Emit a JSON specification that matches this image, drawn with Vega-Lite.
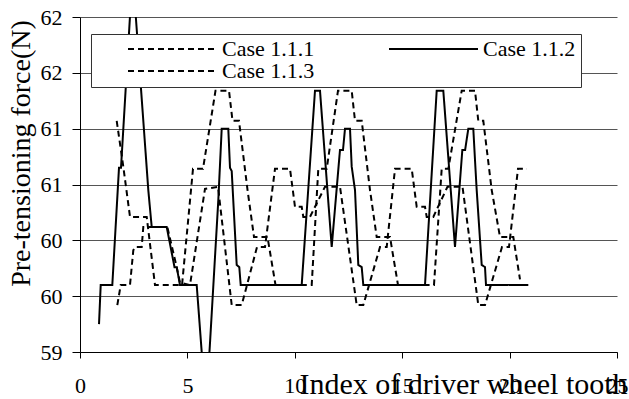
{
  "$schema": "https://vega.github.io/schema/vega-lite/v6.json",
  "autosize": {"type": "none"},
  "padding": {"left": 80, "top": 17, "right": 12, "bottom": 47},
  "width": 537,
  "height": 335,
  "background": "white",
  "config": {
    "view": {"stroke": null},
    "font": "Liberation Serif",
    "axis": {"labelFont": "Liberation Serif", "titleFont": "Liberation Serif", "labelColor": "black", "titleColor": "black", "titleFontWeight": "normal", "domainColor": "black", "tickColor": "black"}
  },
  "data": {
    "values": [
      {"case": "Case 1.1.2", "tooth": 0.885, "force": 59.25},
      {"case": "Case 1.1.2", "tooth": 0.964, "force": 59.60},
      {"case": "Case 1.1.2", "tooth": 1.504, "force": 59.60},
      {"case": "Case 1.1.2", "tooth": 1.816, "force": 60.65},
      {"case": "Case 1.1.2", "tooth": 1.909, "force": 60.65},
      {"case": "Case 1.1.2", "tooth": 2.449, "force": 62.40},
      {"case": "Case 1.1.2", "tooth": 3.180, "force": 60.45},
      {"case": "Case 1.1.2", "tooth": 3.338, "force": 60.12},
      {"case": "Case 1.1.2", "tooth": 4.036, "force": 60.12},
      {"case": "Case 1.1.2", "tooth": 4.400, "force": 59.76},
      {"case": "Case 1.1.2", "tooth": 4.502, "force": 59.76},
      {"case": "Case 1.1.2", "tooth": 4.655, "force": 59.60},
      {"case": "Case 1.1.2", "tooth": 5.433, "force": 59.60},
      {"case": "Case 1.1.2", "tooth": 5.666, "force": 59.00},
      {"case": "Case 1.1.2", "tooth": 5.866, "force": 58.50},
      {"case": "Case 1.1.2", "tooth": 6.052, "force": 59.08},
      {"case": "Case 1.1.2", "tooth": 6.439, "force": 60.36},
      {"case": "Case 1.1.2", "tooth": 6.597, "force": 61.00},
      {"case": "Case 1.1.2", "tooth": 6.904, "force": 61.00},
      {"case": "Case 1.1.2", "tooth": 6.983, "force": 60.65},
      {"case": "Case 1.1.2", "tooth": 7.063, "force": 60.62},
      {"case": "Case 1.1.2", "tooth": 7.295, "force": 59.78},
      {"case": "Case 1.1.2", "tooth": 7.416, "force": 59.76},
      {"case": "Case 1.1.2", "tooth": 7.481, "force": 59.60},
      {"case": "Case 1.1.2", "tooth": 10.321, "force": 59.60},
      {"case": "Case 1.1.2", "tooth": 10.940, "force": 61.34},
      {"case": "Case 1.1.2", "tooth": 11.173, "force": 61.34},
      {"case": "Case 1.1.2", "tooth": 11.718, "force": 59.94},
      {"case": "Case 1.1.2", "tooth": 12.104, "force": 60.81},
      {"case": "Case 1.1.2", "tooth": 12.244, "force": 60.81},
      {"case": "Case 1.1.2", "tooth": 12.337, "force": 61.00},
      {"case": "Case 1.1.2", "tooth": 12.570, "force": 61.00},
      {"case": "Case 1.1.2", "tooth": 12.649, "force": 60.66},
      {"case": "Case 1.1.2", "tooth": 12.803, "force": 60.45},
      {"case": "Case 1.1.2", "tooth": 12.956, "force": 59.78},
      {"case": "Case 1.1.2", "tooth": 13.115, "force": 59.76},
      {"case": "Case 1.1.2", "tooth": 13.189, "force": 59.60},
      {"case": "Case 1.1.2", "tooth": 16.061, "force": 59.60},
      {"case": "Case 1.1.2", "tooth": 16.606, "force": 61.34},
      {"case": "Case 1.1.2", "tooth": 16.914, "force": 61.34},
      {"case": "Case 1.1.2", "tooth": 17.458, "force": 59.94},
      {"case": "Case 1.1.2", "tooth": 17.800, "force": 60.81},
      {"case": "Case 1.1.2", "tooth": 17.930, "force": 60.81},
      {"case": "Case 1.1.2", "tooth": 18.078, "force": 61.00},
      {"case": "Case 1.1.2", "tooth": 18.310, "force": 61.00},
      {"case": "Case 1.1.2", "tooth": 18.389, "force": 60.72},
      {"case": "Case 1.1.2", "tooth": 18.468, "force": 60.45},
      {"case": "Case 1.1.2", "tooth": 18.701, "force": 59.78},
      {"case": "Case 1.1.2", "tooth": 18.855, "force": 59.76},
      {"case": "Case 1.1.2", "tooth": 18.901, "force": 59.60},
      {"case": "Case 1.1.2", "tooth": 20.871, "force": 59.60},

      {"case": "Case 1.1.1", "tooth": 1.709, "force": 61.07},
      {"case": "Case 1.1.1", "tooth": 2.016, "force": 60.66},
      {"case": "Case 1.1.1", "tooth": 2.328, "force": 60.21},
      {"case": "Case 1.1.1", "tooth": 3.105, "force": 60.21},
      {"case": "Case 1.1.1", "tooth": 3.492, "force": 59.60},
      {"case": "Case 1.1.1", "tooth": 4.750, "force": 59.60},
      {"case": "Case 1.1.1", "tooth": 5.261, "force": 60.64},
      {"case": "Case 1.1.1", "tooth": 5.726, "force": 60.64},
      {"case": "Case 1.1.1", "tooth": 6.308, "force": 61.34},
      {"case": "Case 1.1.1", "tooth": 6.937, "force": 61.34},
      {"case": "Case 1.1.1", "tooth": 7.100, "force": 61.07},
      {"case": "Case 1.1.1", "tooth": 7.402, "force": 61.07},
      {"case": "Case 1.1.1", "tooth": 7.800, "force": 60.45},
      {"case": "Case 1.1.1", "tooth": 8.101, "force": 60.03},
      {"case": "Case 1.1.1", "tooth": 8.729, "force": 60.03},
      {"case": "Case 1.1.1", "tooth": 9.102, "force": 59.60},
      {"case": "Case 1.1.1", "tooth": 10.787, "force": 59.60},
      {"case": "Case 1.1.1", "tooth": 11.094, "force": 60.64},
      {"case": "Case 1.1.1", "tooth": 11.485, "force": 60.64},
      {"case": "Case 1.1.1", "tooth": 12.011, "force": 61.34},
      {"case": "Case 1.1.1", "tooth": 12.649, "force": 61.34},
      {"case": "Case 1.1.1", "tooth": 12.803, "force": 61.07},
      {"case": "Case 1.1.1", "tooth": 13.115, "force": 61.07},
      {"case": "Case 1.1.1", "tooth": 13.501, "force": 60.45},
      {"case": "Case 1.1.1", "tooth": 13.813, "force": 60.03},
      {"case": "Case 1.1.1", "tooth": 14.432, "force": 60.03},
      {"case": "Case 1.1.1", "tooth": 14.804, "force": 59.60},
      {"case": "Case 1.1.1", "tooth": 16.480, "force": 59.60},
      {"case": "Case 1.1.1", "tooth": 16.839, "force": 60.64},
      {"case": "Case 1.1.1", "tooth": 17.147, "force": 60.64},
      {"case": "Case 1.1.1", "tooth": 17.770, "force": 61.34},
      {"case": "Case 1.1.1", "tooth": 18.389, "force": 61.34},
      {"case": "Case 1.1.1", "tooth": 18.543, "force": 61.07},
      {"case": "Case 1.1.1", "tooth": 18.776, "force": 61.07},
      {"case": "Case 1.1.1", "tooth": 19.167, "force": 60.45},
      {"case": "Case 1.1.1", "tooth": 19.553, "force": 60.03},
      {"case": "Case 1.1.1", "tooth": 20.172, "force": 60.03},
      {"case": "Case 1.1.1", "tooth": 20.484, "force": 59.65},

      {"case": "Case 1.1.3", "tooth": 1.737, "force": 59.42},
      {"case": "Case 1.1.3", "tooth": 1.895, "force": 59.60},
      {"case": "Case 1.1.3", "tooth": 2.328, "force": 59.60},
      {"case": "Case 1.1.3", "tooth": 2.481, "force": 59.91},
      {"case": "Case 1.1.3", "tooth": 2.561, "force": 59.94},
      {"case": "Case 1.1.3", "tooth": 2.872, "force": 59.94},
      {"case": "Case 1.1.3", "tooth": 2.947, "force": 60.12},
      {"case": "Case 1.1.3", "tooth": 4.064, "force": 60.12},
      {"case": "Case 1.1.3", "tooth": 4.502, "force": 59.76},
      {"case": "Case 1.1.3", "tooth": 4.655, "force": 59.62},
      {"case": "Case 1.1.3", "tooth": 5.121, "force": 59.60},
      {"case": "Case 1.1.3", "tooth": 5.819, "force": 60.46},
      {"case": "Case 1.1.3", "tooth": 6.425, "force": 60.48},
      {"case": "Case 1.1.3", "tooth": 7.063, "force": 59.42},
      {"case": "Case 1.1.3", "tooth": 7.528, "force": 59.42},
      {"case": "Case 1.1.3", "tooth": 8.240, "force": 59.94},
      {"case": "Case 1.1.3", "tooth": 8.613, "force": 59.94},
      {"case": "Case 1.1.3", "tooth": 9.078, "force": 60.64},
      {"case": "Case 1.1.3", "tooth": 9.777, "force": 60.64},
      {"case": "Case 1.1.3", "tooth": 10.009, "force": 60.30},
      {"case": "Case 1.1.3", "tooth": 10.321, "force": 60.30},
      {"case": "Case 1.1.3", "tooth": 10.396, "force": 60.21},
      {"case": "Case 1.1.3", "tooth": 10.708, "force": 60.21},
      {"case": "Case 1.1.3", "tooth": 11.406, "force": 60.48},
      {"case": "Case 1.1.3", "tooth": 12.104, "force": 60.48},
      {"case": "Case 1.1.3", "tooth": 12.882, "force": 59.42},
      {"case": "Case 1.1.3", "tooth": 13.189, "force": 59.42},
      {"case": "Case 1.1.3", "tooth": 13.966, "force": 59.94},
      {"case": "Case 1.1.3", "tooth": 14.278, "force": 59.94},
      {"case": "Case 1.1.3", "tooth": 14.665, "force": 60.64},
      {"case": "Case 1.1.3", "tooth": 15.443, "force": 60.64},
      {"case": "Case 1.1.3", "tooth": 15.675, "force": 60.30},
      {"case": "Case 1.1.3", "tooth": 16.061, "force": 60.30},
      {"case": "Case 1.1.3", "tooth": 16.141, "force": 60.21},
      {"case": "Case 1.1.3", "tooth": 16.448, "force": 60.21},
      {"case": "Case 1.1.3", "tooth": 17.109, "force": 60.48},
      {"case": "Case 1.1.3", "tooth": 17.807, "force": 60.48},
      {"case": "Case 1.1.3", "tooth": 18.543, "force": 59.42},
      {"case": "Case 1.1.3", "tooth": 18.855, "force": 59.42},
      {"case": "Case 1.1.3", "tooth": 19.646, "force": 59.94},
      {"case": "Case 1.1.3", "tooth": 19.972, "force": 59.94},
      {"case": "Case 1.1.3", "tooth": 20.391, "force": 60.64},
      {"case": "Case 1.1.3", "tooth": 20.810, "force": 60.64}
    ]
  },
  "mark": {"type": "line", "clip": true, "strokeWidth": 2, "color": "black"},
  "encoding": {
    "x": {
      "field": "tooth", "type": "quantitative",
      "scale": {"domain": [0, 25], "nice": false, "zero": false},
      "axis": {
        "values": [0, 5, 10, 15, 20, 25], "grid": false, "tickSize": 6,
        "labelFontSize": 22, "labelBaseline": "alphabetic", "labelPadding": 34,
        "labelFlush": false,
        "title": "Index of driver wheel tooth", "titleFontSize": 30,
        "titleAnchor": "start", "titleAlign": "center", "titleBaseline": "alphabetic",
        "titleX": 383, "titleY": 41
      }
    },
    "y": {
      "field": "force", "type": "quantitative",
      "scale": {"domain": [59, 62], "nice": false, "zero": false},
      "axis": {
        "values": [59, 59.5, 60, 60.5, 61, 61.5, 62], "format": ".0f",
        "grid": true, "gridColor": "#555", "gridWidth": 1, "tickSize": 8,
        "labelFontSize": 22, "labelPadding": 10,
        "title": "Pre-tensioning force(N)", "titleFontSize": 28,
        "titleAngle": -90, "titleAlign": "center", "titleBaseline": "alphabetic",
        "titleX": -51, "titleY": 136
      }
    },
    "strokeDash": {
      "field": "case", "type": "nominal",
      "scale": {"domain": ["Case 1.1.1", "Case 1.1.3", "Case 1.1.2"], "range": [[6, 4], [6, 4], [1, 0]]},
      "legend": {
        "title": null, "orient": "none", "legendX": 11, "legendY": 17,
        "columns": 2, "columnPadding": 42, "rowPadding": 0, "padding": 5,
        "symbolType": "stroke", "symbolSize": 7921, "symbolStrokeWidth": 2, "symbolStrokeColor": "black",
        "symbolOffset": 31,
        "labelFont": "Liberation Serif", "labelFontSize": 22, "labelColor": "black", "labelOffset": 4,
        "labelExpr": "datum.label == 'Case 1.1.2' ? datum.label + '\u00a0\u00a0\u00a0\u00a0\u00a0' : datum.label",
        "clipHeight": 20,
        "fillColor": "white", "strokeColor": "#333"
      }
    }
  }
}
